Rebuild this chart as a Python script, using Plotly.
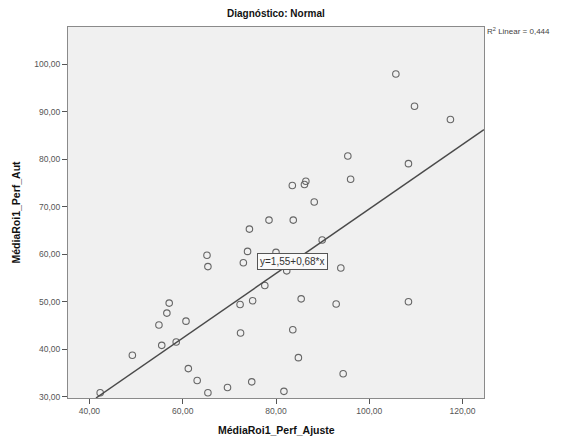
import plotly.graph_objects as go

# ---- data ----
x_vals = [42.3, 49.2, 55.5, 58.6, 54.9, 56.6, 57.1, 60.7, 61.2, 63.1, 65.4, 65.4, 65.2,
          88.2, 78.5, 83.7, 74.3, 73.9, 73.0, 80.0, 82.3, 89.9, 93.9, 77.6, 72.3, 75.0,
          85.4, 92.9, 72.4, 83.6, 84.8, 94.4, 74.8, 69.6, 81.7, 105.7, 109.7, 117.4,
          95.4, 108.4, 96.0, 83.5, 86.1, 86.4, 108.4]
y_vals = [30.8, 38.7, 40.8, 41.5, 45.1, 47.6, 49.7, 45.9, 35.9, 33.4, 30.8, 57.4, 59.8,
          71.0, 67.2, 67.2, 65.3, 60.6, 58.2, 60.4, 56.5, 63.0, 57.1, 53.4, 49.4, 50.2,
          50.6, 49.5, 43.4, 44.1, 38.2, 34.8, 33.1, 31.9, 31.1, 98.0, 91.2, 88.4,
          80.7, 79.1, 75.8, 74.5, 74.7, 75.4, 50.0]

intercept = 1.55
slope = 0.68
r2_text = "R<sup>2</sup> Linear = 0,444"
eq_text = "y=1,55+0,68*x"
eq_x = 83.6

x_ticks = [40, 60, 80, 100, 120]
x_ticktext = ["40,00", "60,00", "80,00", "100,00", "120,00"]
y_ticks = [30, 40, 50, 60, 70, 80, 90, 100]
y_ticktext = ["30,00", "40,00", "50,00", "60,00", "70,00", "80,00", "90,00", "100,00"]

x_range = [35.4, 124.6]
y_range = [29.7, 107.9]

title_text = "Diagnóstico: Normal"
x_title = "MédiaRoi1_Perf_Ajuste"
y_title = "MédiaRoi1_Perf_Aut"

# ---- figure ----
W, H = 561, 439
ML, MR, MT, MB = 68, 77, 27, 41
PW, PH = W - ML - MR, H - MT - MB


def px_to_paper_x(px):
    return (px - ML) / PW


def px_to_paper_y(py):
    return (H - MB - py) / PH


font_family = "Arial, Liberation Sans, sans-serif"
fig = go.Figure()

fig.add_trace(go.Scatter(
    x=x_vals, y=y_vals, mode="markers",
    marker=dict(symbol="circle-open", size=6.5, color="#666666", line=dict(width=1.1, color="#666666")),
    showlegend=False, hoverinfo="x+y",
))

line_x0 = (y_range[0] - intercept) / slope
line_xs = [max(line_x0, x_range[0]), x_range[1]]
line_ys = [intercept + slope * v for v in line_xs]
fig.add_trace(go.Scatter(
    x=line_xs, y=line_ys, mode="lines",
    line=dict(color="#4a4a4a", width=1.5),
    showlegend=False, hoverinfo="skip",
))

fig.add_annotation(
    x=eq_x, y=intercept + slope * eq_x, xref="x", yref="y",
    text=eq_text, showarrow=False,
    font=dict(family=font_family, size=10, color="#333333"),
    bgcolor="#fafafa", bordercolor="#555555", borderwidth=1, borderpad=2,
)

fig.add_annotation(
    x=0.5, y=px_to_paper_y(13), xref="paper", yref="paper",
    text="<b>" + title_text + "</b>", showarrow=False,
    font=dict(family=font_family, size=10, color="#111111"),
    xanchor="center", yanchor="middle",
)
fig.add_annotation(
    x=0.5, y=px_to_paper_y(430), xref="paper", yref="paper",
    text="<b>" + x_title + "</b>", showarrow=False,
    font=dict(family=font_family, size=10.5, color="#111111"),
    xanchor="center", yanchor="middle",
)
fig.add_annotation(
    x=px_to_paper_x(15), y=0.5, xref="paper", yref="paper",
    text="<b>" + y_title + "</b>", showarrow=False, textangle=-90,
    font=dict(family=font_family, size=10.5, color="#111111"),
    xanchor="center", yanchor="middle",
)
fig.add_annotation(
    x=px_to_paper_x(485), y=px_to_paper_y(31), xref="paper", yref="paper",
    text=r2_text, showarrow=False,
    font=dict(family=font_family, size=8, color="#444444"),
    xanchor="left", yanchor="middle",
)

axis_common = dict(
    showgrid=False, zeroline=False,
    showline=True, linecolor="#8a8a8a", linewidth=1, mirror=True,
    ticks="outside", ticklen=5, tickcolor="#555555", tickwidth=1,
    tickfont=dict(family=font_family, size=8.5, color="#555555"),
)

fig.update_xaxes(range=x_range, tickmode="array", tickvals=x_ticks, ticktext=x_ticktext, **axis_common)
fig.update_yaxes(range=y_range, tickmode="array", tickvals=y_ticks, ticktext=y_ticktext, **axis_common)

fig.update_layout(
    width=W, height=H,
    margin=dict(l=ML, r=MR, t=MT, b=MB),
    paper_bgcolor="white", plot_bgcolor="#f0f0f0",
    font=dict(family=font_family),
)

fig.write_html(
    "out.html",
    config={"displayModeBar": False},
    post_script="document.body.style.margin='0';document.body.style.overflow='hidden';",
)
